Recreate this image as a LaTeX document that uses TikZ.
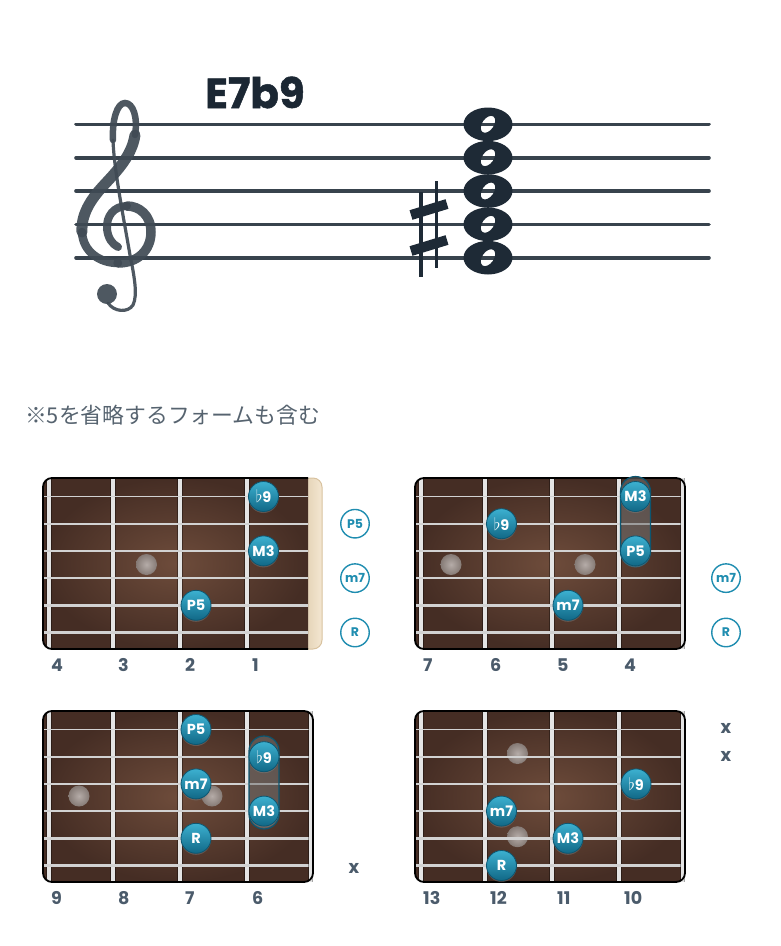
\documentclass[tikz,border=0pt]{standalone}
\usepackage{fontspec}
\setmainfont{Poppins}
\newfontfamily\jpfont{Noto Sans CJK JP}
\usetikzlibrary{shadows}

\definecolor{inkc}{HTML}{38434D}
\definecolor{clefc}{HTML}{3F4A54}
\definecolor{notec}{HTML}{1E2A36}
\definecolor{titlec}{HTML}{1B2733}
\definecolor{jpc}{HTML}{56636F}
\definecolor{labc}{HTML}{4B5B6B}
\definecolor{woodin}{HTML}{6E4C3B}
\definecolor{woodout}{HTML}{452D24}
\definecolor{wirec}{HTML}{E4E4E4}
\definecolor{stringc}{HTML}{D2D2D2}
\definecolor{teallt}{HTML}{3CB0D0}
\definecolor{tealdk}{HTML}{116886}
\definecolor{tealrim}{HTML}{0C5671}
\definecolor{tealo}{HTML}{1F8DB0}
\definecolor{nutlt}{HTML}{F4E7D2}
\definecolor{nutdk}{HTML}{D8C29F}
\definecolor{inlayin}{HTML}{B5ACA8}
\definecolor{inlayout}{HTML}{857A75}

% wood, frets and strings of one board
\newcommand\wood[2]{%
  \begin{scope}
    \clip[rounded corners=9] (0,0) rectangle (#2,171);
    \shade[inner color=woodin, outer color=woodout] (0,0) rectangle (#1,171);
    \foreach \fx in {6,70,137,204} {\draw[wire] (\fx,0) -- (\fx,171);}
  \end{scope}}
\newcommand\strings[1]{%
  \foreach \sy/\sw in {18.5/1.6,45.7/1.9,72.9/2.2,100.1/2.5,127.3/2.9,154.5/3.3}
    {\draw[gstring, line width=\sw] (0,\sy) -- (#1,\sy);}}
\newcommand\flt{{\fontsize{17}{17}\selectfont$\flat$}}

\begin{document}
\begin{tikzpicture}[x=1pt, y=-1pt,
  staffline/.style={line width=3.6, draw=inkc, line cap=round},
  wire/.style={draw=wirec, line width=3.2, preaction={draw=black, opacity=.35, line width=5.5}},
  gstring/.style={draw=stringc},
  inlay/.style={inner color=inlayin, outer color=inlayout},
  tone/.style={circle, inner sep=0pt, minimum size=30, top color=teallt, bottom color=tealdk,
    draw=tealrim, line width=.8, text=white, font=\bfseries\fontsize{14.5}{14.5}\selectfont,
    drop shadow={opacity=.45, shadow xshift=0pt, shadow yshift=-1.5pt}},
  openstr/.style={circle, inner sep=0pt, minimum size=28.5, draw=tealo, line width=1.4, fill=white,
    text=tealo, font=\bfseries\fontsize{12.5}{12.5}\selectfont},
  barre/.style={fill=black!55, fill opacity=.55, draw=tealrim, line width=1.2, rounded corners=15},
  fretnum/.style={anchor=west, inner sep=0pt, text=labc, font=\bfseries\fontsize{17.5}{17.5}\selectfont},
  mute/.style={inner sep=0pt, text=labc, font=\bfseries\fontsize{18}{18}\selectfont}]

\useasboundingbox (0,0) rectangle (780,946);

% title and staff
\node[anchor=base west, inner sep=0pt, text=titlec, font=\bfseries\fontsize{42}{42}\selectfont\addfontfeature{FakeBold=1.2}] (title) at (205,108) {E7b9};
\foreach \ly in {124.3,157.7,191,224.3,257.7}
  \draw[staffline] (76,\ly) -- (709,\ly);

% treble clef
\begin{scope}[draw=clefc, fill=clefc, opacity=.92, line cap=round]
  \draw[line width=6.5] (113,140) .. controls (112,120) and (117,103) .. (125,103) .. controls (133,103) and (138,117) .. (135,135);
  \draw[line width=11] (135,135) .. controls (132,155) and (118,170) .. (104,185) .. controls (90,200) and (81,215) .. (82,232);
  \draw[line width=8.5] (82,232) .. controls (83,252) and (100,263) .. (118,263);
  \draw[line width=9.5] (118,263) .. controls (138,263) and (151,250) .. (151,232) .. controls (151,215) and (139,206) .. (127,206);
  \draw[line width=8] (127,206) .. controls (114,206) and (106,216) .. (107,229) .. controls (108,238) and (112,244) .. (118,247);
  \draw[line width=3.2] (113,140) .. controls (114,170) and (124,220) .. (130,255) .. controls (134,275) and (138,295) .. (133,305) .. controls (128,313) and (114,312) .. (108,303);
  \fill (107,294) circle (10);
\end{scope}

% sharp and chord
\draw[notec, line width=3.4] (421,192) -- (421,277);
\draw[notec, line width=3.4] (436.5,181) -- (436.5,268);
\draw[notec, line width=10] (411,215) -- (447,204);
\draw[notec, line width=10] (411,251) -- (447,240);
\foreach \ny in {124.3,157.7,191,224.3,257.7}
  \fill[notec, even odd rule] (488,\ny) ellipse [x radius=24.5, y radius=16.8]
    [rotate around={55:(488,\ny)}] (488,\ny) ellipse [x radius=9.5, y radius=5.8];

\node[anchor=base west, inner sep=0pt, text=jpc, font=\jpfont\fontsize{21.8}{21.8}\selectfont] (note) at (25,423) {※5を省略するフォームも含む};

% board 1: frets 4-1 with nut
\begin{scope}[shift={(43,478)}]
  \shade[left color=nutdk, right color=nutlt, rounded corners=9, draw=nutdk, line width=1] (250,0) rectangle (279,171);
  \wood{265}{300}
  \shade[inlay] (103.5,86.5) circle (10.5);
  \strings{265}
  \draw[black, line width=1.8, rounded corners=9] (265,0) -- (0,0) -- (0,171) -- (265,171);
  \node[tone] (ab9) at (220.5,18.5) {\flt9};
  \node[tone] (am3) at (220.5,72.9) {M3};
  \node[tone] (ap5) at (153,127.3) {P5};
  \node[openstr] (aop5) at (312,45.7) {P5};
  \node[openstr] (aom7) at (312,100.1) {m7};
  \node[openstr] (aor) at (312,154.5) {R};
  \node[fretnum] (af4) at (8,187) {4};
  \node[fretnum] (af3) at (75,187) {3};
  \node[fretnum] (af2) at (142,187) {2};
  \node[fretnum] (af1) at (209,187) {1};
\end{scope}

% board 2: frets 7-4
\begin{scope}[shift={(415,478)}]
  \wood{270}{270}
  \shade[inlay] (36,86.5) circle (10.5);
  \shade[inlay] (170,86.5) circle (10.5);
  \strings{270}
  \draw[wire] (267.5,0) -- (267.5,171);
  \draw[black, line width=1.8, rounded corners=9] (0,0) rectangle (270,171);
  \draw[barre] (205.5,-1.5) rectangle (235.5,88.7);
  \node[tone] (bm3) at (220.5,18.5) {M3};
  \node[tone] (bb9) at (86.5,45.7) {\flt9};
  \node[tone] (bp5) at (220.5,72.9) {P5};
  \node[tone] (bm7) at (153,127.3) {m7};
  \node[openstr] (bom7) at (311,100.1) {m7};
  \node[openstr] (bor) at (311,154.5) {R};
  \node[fretnum] (bf7) at (8,187) {7};
  \node[fretnum] (bf6) at (75,187) {6};
  \node[fretnum] (bf5) at (142,187) {5};
  \node[fretnum] (bf4) at (209,187) {4};
\end{scope}

% board 3: frets 9-6
\begin{scope}[shift={(43,711)}]
  \wood{270}{270}
  \shade[inlay] (36,85) circle (10.5);
  \shade[inlay] (169,85) circle (10.5);
  \strings{270}
  \draw[wire] (267.5,0) -- (267.5,171);
  \draw[black, line width=1.8, rounded corners=9] (0,0) rectangle (270,171);
  \draw[barre] (206,25) rectangle (236,118);
  \node[tone] (cp5) at (153,18.5) {P5};
  \node[tone] (cb9) at (221,45.7) {\flt9};
  \node[tone] (cm7) at (153,72.9) {m7};
  \node[tone] (cm3) at (221,100.1) {M3};
  \node[tone] (cr) at (153,127.3) {R};
  \node[mute] (cx6) at (311,157) {x};
  \node[fretnum] (cf9) at (8,187) {9};
  \node[fretnum] (cf8) at (75,187) {8};
  \node[fretnum] (cf7) at (142,187) {7};
  \node[fretnum] (cf6) at (209,187) {6};
\end{scope}

% board 4: frets 13-10
\begin{scope}[shift={(415,711)}]
  \wood{270}{270}
  \shade[inlay] (102.5,42.5) circle (10.5);
  \shade[inlay] (102.5,125.7) circle (10.5);
  \strings{270}
  \draw[wire] (267.5,0) -- (267.5,171);
  \draw[black, line width=1.8, rounded corners=9] (0,0) rectangle (270,171);
  \node[tone] (db9) at (221,72.9) {\flt9};
  \node[tone] (dm7) at (86.5,100.1) {m7};
  \node[tone] (dm3) at (153,127.3) {M3};
  \node[tone] (dr) at (86.5,154.5) {R};
  \node[mute] (dx1) at (311,17.5) {x};
  \node[mute] (dx2) at (311,45) {x};
  \node[fretnum] (df13) at (8,187) {13};
  \node[fretnum] (df12) at (75,187) {12};
  \node[fretnum] (df11) at (142,187) {11};
  \node[fretnum] (df10) at (209,187) {10};
\end{scope}
\end{tikzpicture}
\end{document}
